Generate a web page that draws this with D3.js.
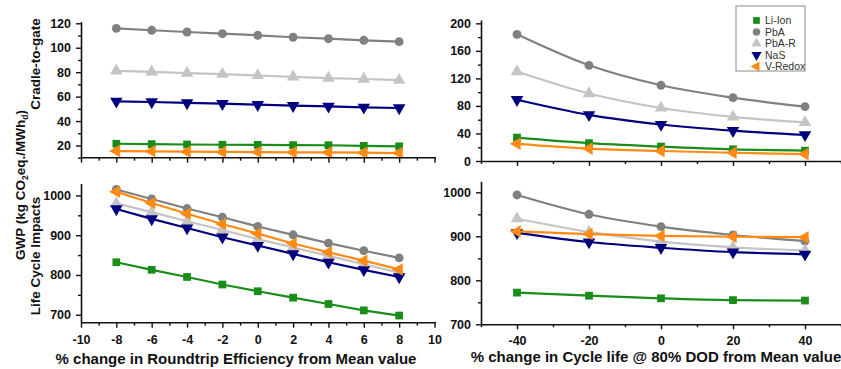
<!DOCTYPE html>
<html><head><meta charset="utf-8">
<script src="https://cdn.jsdelivr.net/npm/d3@7/dist/d3.min.js"></script>
<style>
body{margin:0;background:#fff;}
svg{display:block;font-family:"Liberation Sans",Arial,sans-serif;}
</style></head>
<body><svg id="c" width="841" height="369"></svg>
<script>
// ---- data ----
const seriesNames = ["Li-Ion","PbA","PbA-R","NaS","V-Redox"];
const seriesColors = ["#1a8c1a","#808080","#c4c4c4","#00007f","#ff8a14"];
const xRTE = [-8,-6,-4,-2,0,2,4,6,8];
const xCycle = [-40,-20,0,20,40];

// Cradle-to-gate vs roundtrip efficiency
const liIonTL  = [21.4,21.1,20.8,20.6,20.5,20.3,20.2,19.7,19.3];
const pbaTL    = [115.9,114.3,112.9,111.5,110.2,108.6,107.4,106.1,105.0];
const pbaRTL   = [81.1,80.3,79.2,78.4,77.3,76.2,75.2,74.4,73.5];
const nasTL    = [56.1,55.6,54.8,54.2,53.4,52.6,52.0,51.2,50.7];
const vRedoxTL = [15.4,15.2,14.9,14.7,14.6,14.4,14.3,14.1,13.8];

// Cradle-to-gate vs cycle life
const liIonTR  = [34,26,21,17,15];
const pbaTR    = [184,139,110,92,79];
const pbaRTR   = [130,98,77,64,56];
const nasTR    = [89,67,53,44,38];
const vRedoxTR = [25,18,14.5,12,10];

// Life cycle vs roundtrip efficiency
const liIonBL  = [832,813,795,776,759,743,727,711,698];
const pbaBL    = [1015,991,967,945,922,901,880,861,843];
const pbaRBL   = [980,958,935,913,890,869,848,827,806];
const nasBL    = [966,941,918,895,874,853,832,813,795];
const vRedoxBL = [1009,981,954,928,904,879,857,836,814];

// Life cycle vs cycle life
const liIonBR  = [772,765,759,755,754];
const pbaBR    = [994,950,922,903,889];
const pbaRBR   = [940,910,888,875,868];
const nasBR    = [908,887,874,864,859];
const vRedoxBR = [911,905,901,899,898];

const xLeftTicks = [-10,-8,-6,-4,-2,0,2,4,6,8,10];
const xRightTicks = [-40,-20,0,20,40];
const yTLTicks = [20,40,60,80,100,120];
const yTRTicks = [0,40,80,120,160,200];
const yBLTicks = [700,800,900,1000];
const yBRTicks = [700,800,900,1000];

const xTitleLeft = "% change in Roundtrip Efficiency from Mean value";
const xTitleRight = "% change in Cycle life @ 80% DOD from Mean value";

// ---- drawing ----
const svg = d3.select("#c");
const FONT = '"Liberation Sans",Arial,sans-serif';
const fmt = d => String(d);

const xL = d3.scaleLinear().domain([-10,10]).range([81,434.5]);
const xR = d3.scaleLinear().domain([-50,50]).range([481,841]);

const panels = [
  {x:xL, y:d3.scaleLinear().domain([10,121.4]).range([157.7,21.6]), xs:xRTE,
   data:[liIonTL,pbaTL,pbaRTL,nasTL,vRedoxTL], yMajor:yTLTicks, yMinorStep:10,
   xMajor:xLeftTicks, xMinorStep:1, xLabels:false, curve:d3.curveLinear},
  {x:xR, y:d3.scaleLinear().domain([0,205]).range([161,19.9]), xs:xCycle,
   data:[liIonTR,pbaTR,pbaRTR,nasTR,vRedoxTR], yMajor:yTRTicks, yMinorStep:20,
   xMajor:xRightTicks, xMinorStep:10, xLabels:false, curve:d3.curveMonotoneX},
  {x:xL, y:d3.scaleLinear().domain([680,1030]).range([322.7,183.5]), xs:xRTE,
   data:[liIonBL,pbaBL,pbaRBL,nasBL,vRedoxBL], yMajor:yBLTicks, yMinorStep:50,
   xMajor:xLeftTicks, xMinorStep:1, xLabels:true, curve:d3.curveLinear},
  {x:xR, y:d3.scaleLinear().domain([700,1025]).range([324.3,181.3]), xs:xCycle,
   data:[liIonBR,pbaBR,pbaRBR,nasBR,vRedoxBR], yMajor:yBRTicks, yMinorStep:50,
   xMajor:xRightTicks, xMinorStep:10, xLabels:true, curve:d3.curveMonotoneX}
];

const symTypes=[d3.symbolSquare,d3.symbolCircle,d3.symbolTriangle,d3.symbolTriangle,d3.symbolTriangle];
function symbolFor(i){
  const sizes=[60,62,68,68,68];
  return d3.symbol().type(symTypes[i]).size(sizes[i]);
}
const rotations=[0,0,0,180,-90];

function minorTicks(domain, step, majors){
  const out=[];
  const s=Math.ceil(domain[0]/step-1e-9)*step;
  for(let v=s; v<=domain[1]+1e-9; v+=step){
    const r=Math.round(v*1000)/1000;
    if(!majors.some(m=>Math.abs(m-r)<1e-6)) out.push(r);
  }
  return out;
}

panels.forEach(p=>{
  const g = svg.append("g");
  const [xd0,xd1]=p.x.domain();
  const [yd0,yd1]=p.y.domain();
  const y0=p.y(yd0), x0=p.x(xd0);

  p.data.forEach((vals,i)=>{
    const pts = p.xs.map((xv,j)=>[xv,vals[j]]);
    g.append("path").datum(pts)
      .attr("fill","none").attr("stroke",seriesColors[i]).attr("stroke-width",2.2)
      .attr("d",d3.line().x(d=>p.x(d[0])).y(d=>p.y(d[1])).curve(p.curve));
    g.selectAll(null).data(pts).enter().append("path")
      .attr("d",symbolFor(i)())
      .attr("fill",seriesColors[i])
      .attr("transform",d=>`translate(${p.x(d[0])},${p.y(d[1])}) rotate(${rotations[i]})`);
  });

  const yAxis = d3.axisLeft(p.y).tickValues(p.yMajor).tickFormat(fmt).tickSize(5).tickPadding(5).tickSizeOuter(0);
  const ya = g.append("g").attr("transform",`translate(${x0},0)`).call(yAxis);
  const yMinor = d3.axisLeft(p.y).tickValues(minorTicks([yd0,yd1],p.yMinorStep,p.yMajor)).tickSize(3).tickFormat("").tickSizeOuter(0);
  const ym = g.append("g").attr("transform",`translate(${x0},0)`).call(yMinor);
  ym.select(".domain").remove();

  const xAxis = d3.axisBottom(p.x).tickValues(p.xMajor).tickFormat(p.xLabels?fmt:"").tickSize(5).tickPadding(7).tickSizeOuter(0);
  const xa = g.append("g").attr("transform",`translate(0,${y0})`).call(xAxis);
  const xMinor = d3.axisBottom(p.x).tickValues(minorTicks([xd0,xd1],p.xMinorStep,p.xMajor)).tickSize(3).tickFormat("").tickSizeOuter(0);
  const xm = g.append("g").attr("transform",`translate(0,${y0})`).call(xMinor);
  xm.select(".domain").remove();

  [ya,ym,xa,xm].forEach(a=>{
    a.selectAll(".domain").attr("stroke","#111").attr("stroke-width",1.6);
    a.selectAll(".tick line").attr("stroke","#111").attr("stroke-width",1.4);
    a.selectAll("text").attr("font-family",FONT).attr("font-size",12.5)
      .attr("font-weight","bold").attr("fill","#111");
  });
  if(p.x===xL){
    xa.select(".domain").attr("d",`M${p.x(xd0)},0H${p.x(xd1)+1.5}`);
  }
});

// axis titles
svg.append("text").attr("x",236).attr("y",364).attr("text-anchor","middle")
  .attr("font-family",FONT).attr("font-size",15).attr("font-weight","bold").attr("fill","#111")
  .text(xTitleLeft);
svg.append("text").attr("x",656).attr("y",362).attr("text-anchor","middle")
  .attr("font-family",FONT).attr("font-size",15).attr("font-weight","bold").attr("fill","#111")
  .text(xTitleRight);

// y titles
const yt = svg.append("text").attr("transform","translate(25,185) rotate(-90)")
  .attr("text-anchor","middle").attr("font-family",FONT).attr("font-size",13.5)
  .attr("font-weight","bold").attr("fill","#111");
yt.append("tspan").text("GWP (kg CO");
yt.append("tspan").attr("dy",3).attr("font-size",8.5).text("2");
yt.append("tspan").attr("dy",-3).text("eq./MWh");
yt.append("tspan").attr("dy",3).attr("font-size",8.5).text("d");
yt.append("tspan").attr("dy",-3).text(")");

svg.append("text").attr("transform","translate(40,64) rotate(-90)")
  .attr("text-anchor","middle").attr("font-family",FONT).attr("font-size",13.5)
  .attr("font-weight","bold").attr("fill","#111").text("Cradle-to-gate");
svg.append("text").attr("transform","translate(40,256) rotate(-90)")
  .attr("text-anchor","middle").attr("font-family",FONT).attr("font-size",13.5)
  .attr("font-weight","bold").attr("fill","#111").text("Life Cycle Impacts");

// legend
const lg = svg.append("g");
lg.append("rect").attr("x",736).attr("y",6).attr("width",69).attr("height",65)
  .attr("fill","#fff").attr("stroke","#8a8a8a").attr("stroke-width",1);
seriesNames.forEach((n,i)=>{
  const yy = 20.5 + i*11.5;
  lg.append("path").attr("d",d3.symbol().type(symTypes[i]).size(45)())
    .attr("fill",seriesColors[i]).attr("transform",`translate(756.5,${yy}) rotate(${rotations[i]})`);
  lg.append("text").attr("x",765).attr("y",yy).attr("dy","0.35em")
    .attr("font-family",FONT).attr("font-size",10.5).attr("fill","#333").text(n);
});
</script>
</body></html>
